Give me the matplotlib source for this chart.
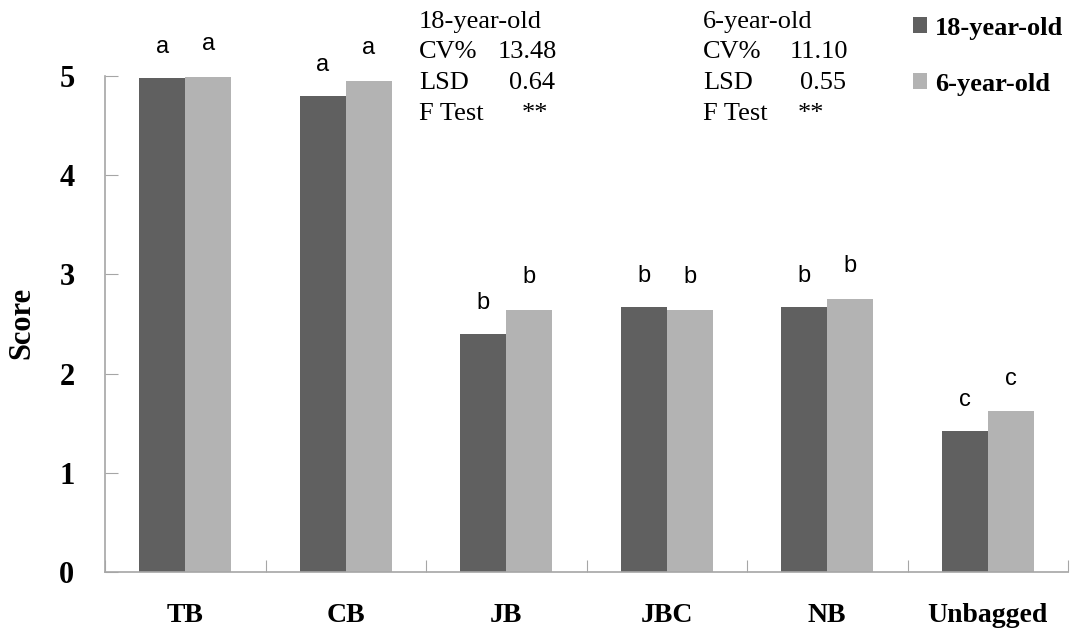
import numpy as np
import matplotlib
matplotlib.use('Agg')
import matplotlib.pyplot as plt

categorias = ['TB', 'CB', 'JB', 'JBC', 'NB', 'Unbagged']
score18 = [4.98, 4.80, 2.40, 2.67, 2.67, 1.42]
score6 = [4.99, 4.95, 2.64, 2.64, 2.75, 1.62]
letras18 = ['a', 'a', 'b', 'b', 'b', 'c']
letras6 = ['a', 'a', 'b', 'b', 'b', 'c']
series = ['18-year-old', '6-year-old']

# estatisticas de cada grupo
stats18 = [('CV%', '13.48'), ('LSD', '0.64'), ('F Test', '**')]
stats6 = [('CV%', '11.10'), ('LSD', '0.55'), ('F Test', '**')]

cor_escura = '#606060'
cor_clara = '#b3b3b3'
cinza_eixo = '#a6a6a6'
serif = ['Liberation Serif', 'DejaVu Serif']

W, H = 1075, 630
fig = plt.figure(figsize=(W / 100, H / 100), dpi=100)
ax = fig.add_axes([105 / W, 1 - 572 / H, (1068 - 105) / W, (572 - 76) / H])

x = np.arange(len(categorias))
larg = 0.287
b1 = ax.bar(x - larg / 2, score18, larg, color=cor_escura, label=series[0])
b2 = ax.bar(x + larg / 2, score6, larg, color=cor_clara, label=series[1])

for xi, v, l in zip(x, score18, letras18):
    ax.text(xi - larg / 2, v + 0.31, l, ha='center', va='center',
            fontsize=17, family='Liberation Sans')
for xi, v, l in zip(x, score6, letras6):
    ax.text(xi + larg / 2, v + 0.33, l, ha='center', va='center',
            fontsize=17, family='Liberation Sans')

ax.set_xlim(-0.5, len(categorias) - 0.5)
ax.set_ylim(0, 5)

for s in ['top', 'right']:
    ax.spines[s].set_visible(False)
for s in ['left', 'bottom']:
    ax.spines[s].set_color(cinza_eixo)
    ax.spines[s].set_linewidth(1.2)

ax.set_yticks(range(6))
ax.set_yticklabels([str(i) for i in range(6)], family=serif,
                   fontweight='bold', fontsize=22)
ax.tick_params(axis='y', direction='in', length=9, color=cinza_eixo, pad=22)

ax.set_xticks(np.arange(-0.5, len(categorias)), labels=[])
ax.set_xticks(x, minor=True)
ax.set_xticklabels(categorias, minor=True, family=serif,
                   fontweight='bold', fontsize=20)
ax.tick_params(axis='x', which='major', direction='in', length=9,
               color=cinza_eixo)
ax.tick_params(axis='x', which='minor', length=0, pad=22)

ax.set_ylabel('Score', family=serif, fontweight='bold', fontsize=22)
ax.yaxis.set_label_coords((36 - 105) / 963, (572 - 323) / 496)

# blocos de texto com CV, LSD e F
def bloco(x0, xv, titulo, stats):
    y0 = 22
    fig.text(x0 / W, 1 - y0 / H, titulo, family=serif, fontsize=19,
             va='center', ha='left')
    for i, (nome, val) in enumerate(stats):
        yy = 1 - (y0 + 30.5 * (i + 1)) / H
        fig.text(x0 / W, yy, nome, family=serif, fontsize=19,
                 va='center', ha='left')
        fig.text(xv[i] / W, yy, val, family=serif, fontsize=19,
                 va='center', ha='left')

bloco(419, [498, 509, 522], series[0], stats18)
bloco(703, [790, 800, 798], series[1], stats6)

ax.legend(handles=[b1, b2], loc='upper left',
          bbox_to_anchor=(889 / W, 1 + 7 / H), bbox_transform=fig.transFigure,
          frameon=False, handlelength=0.55, handleheight=0.55,
          handletextpad=0.3, labelspacing=1.25,
          prop={'family': serif, 'weight': 'bold', 'size': 19})

fig.savefig('out.png', dpi=100)
